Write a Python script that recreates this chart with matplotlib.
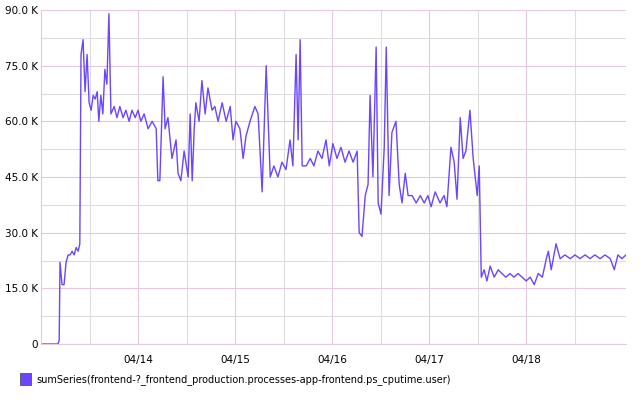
import matplotlib
matplotlib.use("Agg")
import matplotlib.pyplot as plt
from matplotlib.patches import Rectangle

hours = [0,4.2,4.5,4.7,5.2,5.7,6.2,6.7,7.2,7.7,8.2,8.7,9.2,9.6,9.9,10.4,10.9,11.4,11.9,12.4,12.9,13.4,13.9,14.3,14.8,15.3,15.8,16.3,16.8,17.3,18.1,18.8,19.5,20.3,21,21.8,22.5,23.3,24,24.7,25.5,26.5,27.5,28.5,28.9,29.4,30.2,30.7,31.4,32.4,33.4,33.9,34.6,35.4,36.4,36.9,37.4,37.9,38.3,39.1,39.8,40.6,41.3,42.3,43,43.8,44.8,45.8,46.8,47.5,48.2,49.2,50,50.7,51.7,52.9,53.7,54.7,55.7,56.7,57.6,58.6,59.6,60.6,61.6,62.3,63.1,63.6,64.1,64.6,65.6,66.6,67.5,68.5,69.5,70.5,71.3,72.2,73.2,74.2,75.2,76.2,77.2,78.2,78.7,79.4,80.2,80.9,81.4,82.1,82.9,83.4,84.1,84.9,85.4,86.1,86.8,87.8,88.6,89.3,90.1,90.8,91.8,92.8,93.8,94.8,95.7,96.5,97.5,98.7,99.7,100.4,101.4,102.2,102.9,103.7,104.4,105.1,106.1,106.9,107.9,108.4,108.9,109.6,110.3,111.1,112.1,113.1,114,115,116,117,118,119,120,121,122,123,124,125,125.5,126.2,126.9,127.4,128.4,129.6,130.9,132.1,133.3,134.6,135.8,137,138.3,139.5,140.8,141.8,142.7,143.7,144.7]
values_k = [0,0,1,22,16,16,22,24,24,25,24,26,25,27,78,82,68,78,65,63,67,66,68,60,67,62,74,70,89,62,64,61,64,61,63,60,63,61,63,60,62,58,60,58,44,44,72,58,61,50,55,46,44,52,45,62,44,58,65,60,71,62,69,63,64,60,65,60,64,55,60,58,50,56,60,64,62,41,75,45,48,45,49,47,55,48,78,55,82,48,48,50,48,52,50,55,48,54,50,53,49,52,49,52,30,29,40,43,67,45,80,38,35,53,80,40,57,60,43,38,46,40,40,38,40,38,40,37,41,38,40,37,53,49,39,61,50,52,63,50,40,48,18,20,17,21,18,20,19,18,19,18,19,18,17,18,16,19,18,23,25,20,24,27,23,24,23,24,23,24,23,24,23,24,23,20,24,23,24]
tick_labels = ["04/14", "04/15", "04/16", "04/17", "04/18"]
series_name = "sumSeries(frontend-?_frontend_production.processes-app-frontend.ps_cputime.user)"

color = "#6b45ff"
fig = plt.figure(figsize=(6.43, 4.0), dpi=100)
ax = fig.add_axes([41/643, 56/400, 585/643, 334/400])
ax.plot(hours, [v * 1000 for v in values_k], color=color, lw=1.0)
ax.set_xlim(0, 144.7)
ax.set_ylim(0, 90000)
ax.set_xticks([24, 48, 72, 96, 120])
ax.set_xticklabels(tick_labels)
ax.set_xticks([12, 36, 60, 84, 108, 132], minor=True)
yt = [0, 15000, 30000, 45000, 60000, 75000, 90000]
ax.set_yticks(yt)
ax.set_yticklabels(["0" if v == 0 else f"{v/1000:.1f} K" for v in yt])
ax.set_yticks([7500, 22500, 37500, 52500, 67500, 82500], minor=True)
ax.grid(True, which="major", color="#e6c8e0", lw=0.8)
ax.grid(True, which="minor", color="#dddddd", lw=0.8)
ax.set_axisbelow(True)
ax.tick_params(which="both", length=0, labelsize=7.5, colors="black")
ax.tick_params(axis="x", pad=8)
ax.tick_params(axis="y", pad=2)
for s in ["top", "right"]:
    ax.spines[s].set_visible(False)
ax.spines["left"].set_color("#e6c8e0")
ax.spines["bottom"].set_color("#e6c8e0")
fig.patches.append(Rectangle((20/643, 15/400), 11/643, 12/400, transform=fig.transFigure,
                             facecolor=color, edgecolor="#555555", lw=0.6))
fig.text(36/643, 20.5/400, series_name, fontsize=7.0, va="center", ha="left")
fig.savefig("out.png", dpi=100)
